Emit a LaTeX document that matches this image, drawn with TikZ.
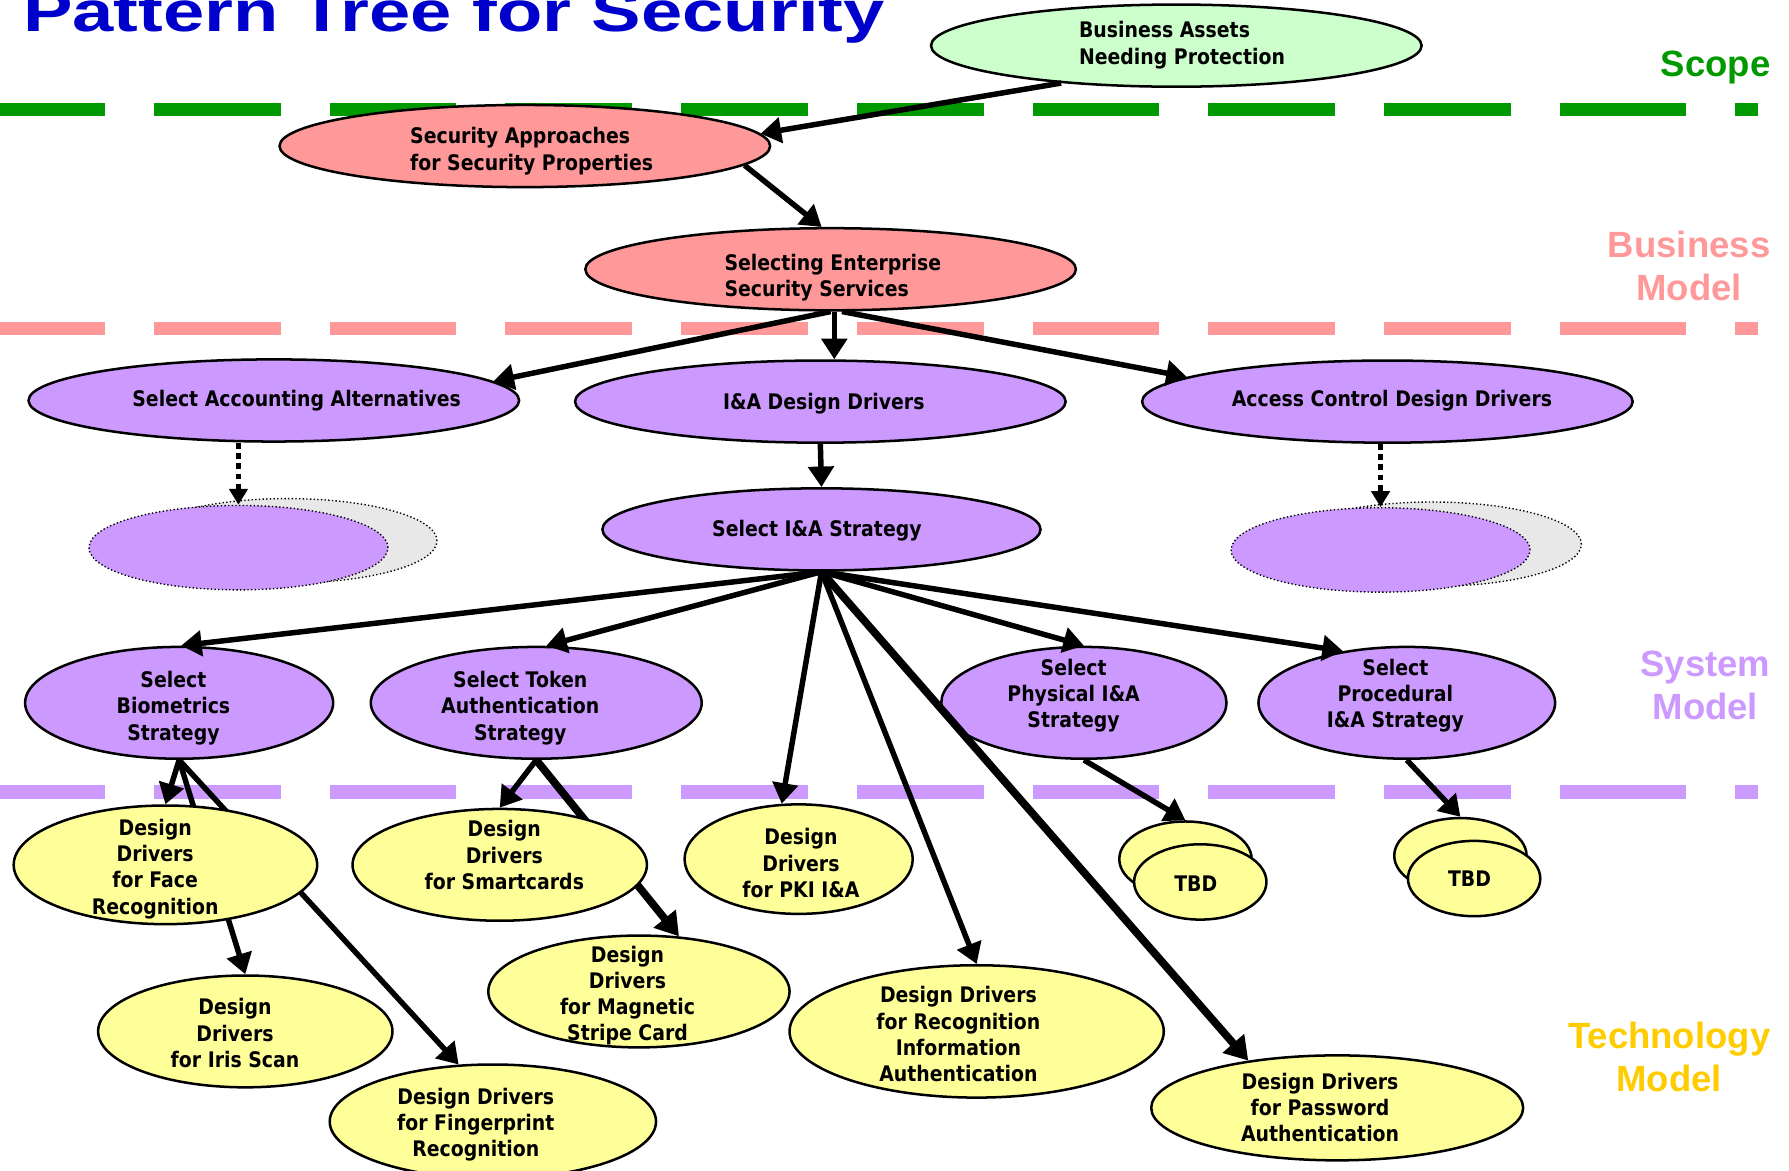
\documentclass[tikz,border=0pt]{standalone}
\usepackage{fontspec}
\setmainfont{DejaVu Sans}[FakeStretch=0.88]
\newfontfamily\titlefont{Liberation Sans}[FakeStretch=1.3]
\newfontfamily\labfont{Liberation Sans}
\usetikzlibrary{arrows.meta,shapes.geometric,calc}
\definecolor{cgreen}{HTML}{009900}
\definecolor{cpink}{HTML}{FF9999}
\definecolor{cpurple}{HTML}{CC99FF}
\definecolor{cyellow}{HTML}{FFFF99}
\definecolor{corange}{HTML}{FFCC00}
\definecolor{clgreen}{HTML}{CCFFCC}
\definecolor{ctitle}{HTML}{0000CC}
\definecolor{cghost}{HTML}{E8E8E8}
\begin{document}
\begin{tikzpicture}[x=0.5pt,y=-0.5pt,
  sz/.style 2 args={minimum width=#1pt, minimum height=#2pt},
  ell/.style={ellipse, draw=black, line width=1.1pt, inner sep=0pt},
  pinkell/.style={ell, fill=cpink},
  purpell/.style={ell, fill=cpurple},
  yelell/.style={ell, fill=cyellow},
  txt/.style={inner sep=0pt, yshift=-1.25pt, font=\bfseries\fontsize{9.4}{11.5}\selectfont, align=center},
  ltxt/.style={txt, align=left},
  ghostb/.style={ellipse, draw=black, densely dotted, line width=0.6pt, fill=cghost, inner sep=0pt},
  ghostf/.style={ellipse, draw=black, densely dotted, line width=0.6pt, fill=cpurple, inner sep=0pt},
  lab/.style={font=\labfont\bfseries\fontsize{16}{19}\selectfont, align=center, inner sep=0pt, anchor=north east},
  dl/.style={line width=6pt, dash pattern=on 55.5pt off 21.5pt, dash phase=9.5pt},
  arr/.style={line width=2.4pt, -{Triangle[length=9pt,width=11pt]}},
  tharr/.style={line width=3.4pt, -{Triangle[length=10pt,width=12pt]}},
  dotarr/.style={line width=2pt, dash pattern=on 2.5pt off 2pt, -{Triangle[length=7pt,width=8pt]}}
]
\useasboundingbox (0,0) rectangle (1568,1026);

% title and layer labels
\node[anchor=base west, inner sep=0pt, text=ctitle,
  font=\titlefont\bfseries\fontsize{25}{29}\selectfont] (title) at (20,28) {Pattern Tree for Security};
\node[lab, text=cgreen] (lscope) at (1552,44) {Scope};
\node[lab, text=cpink] (lbus) at (1552,202) {Business\\Model};
\node[lab, text=cpurple] (lsys) at (1552,570) {System\\Model};
\node[lab, text=corange] (ltech) at (1552,895) {Technology\\Model};

% dashed separators
\draw[dl, cgreen] (0,96) -- (1541,96);
\draw[dl, cpink] (0,288) -- (1541,288);
\draw[dl, cpurple] (0,694) -- (1541,694);

% nodes
\node[pinkell, fill=clgreen, sz={215}{36}] (ba) at (1031,40) {};
\node[ltxt] (ba-t) at (1036,37) {Business Assets\\Needing Protection};
\node[pinkell, sz={215}{36}] (sa) at (460,128) {};
\node[ltxt] (sa-t) at (466,130) {Security Approaches\\for Security Properties};
\node[pinkell, sz={215}{36}] (sel) at (728,236) {};
\node[ltxt] (sel-t) at (730,241) {Selecting Enterprise\\Security Services};
\node[purpell, sz={215}{36}] (acc) at (240,351) {};
\node[txt] (acc-t) at (260,349) {Select Accounting Alternatives};
\node[purpell, sz={215}{36}] (iadd) at (719,352) {};
\node[txt] (iadd-t) at (722,351) {I\&A Design Drivers};
\node[purpell, sz={215}{36}] (acd) at (1216,352) {};
\node[txt] (acd-t) at (1220,349) {Access Control Design Drivers};
\node[ghostb, sz={131}{37}] (g1b) at (252,474) {};
\node[ghostf, sz={131}{37}] (g1) at (209,480) {};
\node[ghostb, sz={131}{37}] (g2b) at (1255,477) {};
\node[ghostf, sz={131}{37}] (g2) at (1210,482) {};
\node[purpell, sz={192}{36}] (sia) at (720,464) {};
\node[txt] (sia-t) at (716,463) {Select I\&A Strategy};
\node[purpell, sz={135}{49}] (bio) at (157,616) {};
\node[txt] (bio-t) at (152,618) {Select\\Biometrics\\Strategy};
\node[purpell, sz={145}{49}] (tok) at (470,616) {};
\node[txt] (tok-t) at (456,618) {Select Token\\Authentication\\Strategy};
\node[purpell, sz={125}{49}] (phy) at (950,616) {};
\node[txt] (phy-t) at (941,607) {Select\\Physical I\&A\\Strategy};
\node[purpell, sz={130}{49}] (pro) at (1233,616) {};
\node[txt] (pro-t) at (1223,607) {Select\\Procedural\\I\&A Strategy};
\node[yelell, sz={100}{48}] (pki) at (700,753) {};
\node[txt] (pki-t) at (702,754) {Design\\Drivers\\for PKI I\&A};
\node[yelell, sz={58}{33}] (tbd1b) at (1039,753) {};
\node[yelell, sz={58}{33}] (tbd1) at (1052,773) {};
\node[txt] (tbd1-t) at (1048,772) {TBD};
\node[yelell, sz={58}{33}] (tbd2b) at (1280,750) {};
\node[yelell, sz={58}{33}] (tbd2) at (1292,770) {};
\node[txt] (tbd2-t) at (1288,768) {TBD};
\node[yelell, sz={129}{49}] (iris) at (215,904) {};
\node[txt] (iris-t) at (206,903) {Design\\Drivers\\for Iris Scan};
\node[yelell, sz={143}{50}] (fp) at (432,983) {};
\node[txt] (fp-t) at (417,983) {Design Drivers\\for Fingerprint\\Recognition};
\node[yelell, sz={132}{49}] (mag) at (560,869) {};
\node[txt] (mag-t) at (550,870) {Design\\Drivers\\for Magnetic\\Stripe Card};
\node[yelell, sz={164}{58}] (rec) at (856,904) {};
\node[txt] (rec-t) at (840,904) {Design Drivers\\for Recognition\\Information\\Authentication};
\node[yelell, sz={163}{46}] (pw) at (1172,971) {};
\node[txt] (pw-t) at (1157,968) {Design Drivers\\for Password\\Authentication};

% connectors that pass behind the face and smartcard nodes
\draw[arr] (bio.south) -- (iris.north);
\draw[arr] (bio.south) -- (fp.121);
\draw[tharr] (tok.south) -- (mag.54);

\node[yelell, sz={133}{52}] (face) at (145,758) {};
\node[txt] (face-t) at (136,759) {Design\\Drivers\\for Face\\Recognition};
\node[yelell, sz={129}{49}] (sc) at (438,758) {};
\node[txt] (sc-t) at (442,747) {Design\\Drivers\\for Smartcards};

% remaining connectors
\draw[arr] (ba.198) -- (sa.3);
\draw[arr] (sa.-5) -- (sel.102);
\draw[arr] (sel.south) -- (acc.5);
\draw[arr] (sel.-85) -- (sel.-85 |- iadd.north);
\draw[arr] (sel.-75) -- (acd.173);
\draw[dotarr] (g1.north |- acc.south) -- (g1.north);
\draw[arr] (iadd.south) -- (sia.north);
\draw[dotarr] (g2.north |- acd.south) -- (g2.north);
\draw[arr] (sia.south) -- (bio.88);
\draw[arr] (sia.south) -- (tok.80);
\draw[arr] (sia.south) -- (pki.107);
\draw[arr] (sia.south) -- (rec.north);
\draw[tharr] (sia.south) -- (pw.152);
\draw[arr] (sia.south) -- (phy.north);
\draw[arr] (sia.south) -- (pro.141);
\draw[arr] (phy.south) -- (tbd1b.north);
\draw[arr] (pro.south) -- (tbd2b.north);
\draw[arr] (bio.south) -- (face.north);
\draw[arr] (tok.south) -- (sc.north);
\end{tikzpicture}
\end{document}
